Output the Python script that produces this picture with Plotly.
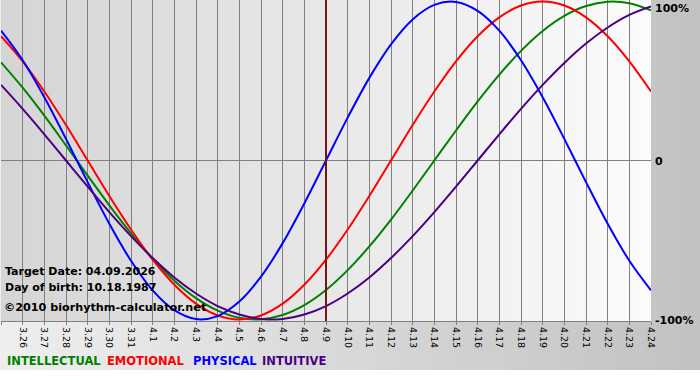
import plotly.graph_objects as go

# ---- data ----
dates = ["3.25", "3.26", "3.27", "3.28", "3.29", "3.30", "3.31",
         "4.1", "4.2", "4.3", "4.4", "4.5", "4.6", "4.7", "4.8", "4.9",
         "4.10", "4.11", "4.12", "4.13", "4.14", "4.15", "4.16", "4.17",
         "4.18", "4.19", "4.20", "4.21", "4.22", "4.23", "4.24"]

physical = [81.7, 63.1, 39.8, 13.6, -13.6, -39.8, -63.1, -81.7, -94.2, -99.8,
            -97.9, -88.8, -73.1, -52.0, -27.0, 0.0, 27.0, 52.0, 73.1, 88.8,
            97.9, 99.8, 94.2, 81.7, 63.1, 39.8, 13.6, -13.6, -39.8, -63.1, -81.7]

emotional = [78.2, 62.4, 43.4, 22.3, 0.0, -22.3, -43.4, -62.4, -78.2, -90.1,
             -97.5, -100.0, -97.5, -90.1, -78.2, -62.4, -43.4, -22.3, 0.0, 22.3,
             43.4, 62.4, 78.2, 90.1, 97.5, 100.0, 97.5, 90.1, 78.2, 62.4, 43.4]

intellectual = [61.8, 45.8, 28.2, 9.5, -9.5, -28.2, -45.8, -61.8, -75.6, -86.6,
                -94.5, -99.0, -99.9, -97.2, -91.0, -81.5, -69.0, -54.1, -37.2, -18.9,
                0.0, 18.9, 37.2, 54.1, 69.0, 81.5, 91.0, 97.2, 99.9, 99.0, 94.5]

intuitive = [47.6, 32.5, 16.5, 0.0, -16.5, -32.5, -47.6, -61.4, -73.6, -83.7,
             -91.6, -96.9, -99.7, -99.7, -96.9, -91.6, -83.7, -73.6, -61.4, -47.6,
             -32.5, -16.5, 0.0, 16.5, 32.5, 47.6, 61.4, 73.6, 83.7, 91.6, 96.9]

target_label = "4.9"
y_labels = ["100%", "0", "-100%"]
y_label_vals = [100, 0, -100]

# ---- layout geometry ----
W, H = 700, 380
ML, MR, MT, MB = 1, 49, 0, 59
PW, PH = W - ML - MR, H - MT - MB


def px2paper(px, py):
    return (px - ML) / PW, (H - MB - py) / PH


def lerp_gray(a, b, t):
    v = int(round(a + (b - a) * t))
    return f"rgb({v},{v},{v})"


x_idx = list(range(len(dates)))

fig = go.Figure()
series = [
    ("INTELLECTUAL", intellectual, "#008000"),
    ("EMOTIONAL", emotional, "#ff0000"),
    ("PHYSICAL", physical, "#0000ff"),
    ("INTUITIVE", intuitive, "#4b0082"),
]
for name, vals, col in series:
    fig.add_trace(go.Scatter(x=x_idx, y=vals, mode="lines", name=name,
                             line=dict(color=col, width=2, shape="spline", smoothing=1.0),
                             hoverinfo="skip"))

shapes = []
# outer background gradient
x0p, _ = px2paper(0, 0)
x1p, _ = px2paper(W, 0)
_, ybot = px2paper(0, 370)
N = 50
for i in range(N):
    xa = x0p + (x1p - x0p) * i / N
    xb = x0p + (x1p - x0p) * (i + 1) / N + 0.002
    shapes.append(dict(type="rect", xref="paper", yref="paper", x0=xa, x1=xb,
                       y0=ybot, y1=1.0, fillcolor=lerp_gray(238, 194, i / (N - 1)),
                       line=dict(width=0), layer="below"))
# plot area gradient
for i in range(N):
    xa = i / N
    xb = (i + 1) / N + 0.001
    shapes.append(dict(type="rect", xref="paper", yref="paper", x0=xa, x1=min(xb, 1.0),
                       y0=0, y1=1, fillcolor=lerp_gray(213, 251, i / (N - 1)),
                       line=dict(width=0), layer="below"))
# target date marker
ti = dates.index(target_label)
shapes.append(dict(type="line", xref="x", yref="paper", x0=ti, x1=ti, y0=0, y1=1,
                   line=dict(color="#7a1414", width=2), layer="above"))

annotations = []
# right side y labels
for lab, v in zip(y_labels, y_label_vals):
    annotations.append(dict(xref="paper", yref="y", x=1.0, y=v, xanchor="left",
                            yanchor="top" if v == 100 else "middle", xshift=2,
                            yshift=2 if v == 100 else -1,
                            text=f"<b>{lab}</b>", showarrow=False,
                            font=dict(family="DejaVu Sans", size=11, color="#000")))

# info text
info = [("Target Date: 04.09.2026", 3, 271, 11),
        ("Day of birth: 10.18.1987", 3, 287, 11),
        ("©2010 biorhythm-calculator.net", 2, 307, 11.2)]
for txt, px, py, fs in info:
    xp, yp = px2paper(px, py)
    annotations.append(dict(xref="paper", yref="paper", x=xp, y=yp, xanchor="left",
                            yanchor="middle", text=f"<b>{txt}</b>", showarrow=False,
                            font=dict(family="DejaVu Sans", size=fs, color="#000")))

# legend text
leg_pos = [5, 105, 191, 260]
for (name, _, col), px in zip(series, leg_pos):
    xp, yp = px2paper(px, 361)
    annotations.append(dict(xref="paper", yref="paper", x=xp, y=yp, xanchor="left",
                            yanchor="middle", text=f"<b>{name}</b>", showarrow=False,
                            font=dict(family="DejaVu Sans", size=11.5, color=col)))

fig.update_layout(
    width=W, height=H,
    margin=dict(l=ML, r=MR, t=MT, b=MB, pad=0, autoexpand=False),
    paper_bgcolor="#ffffff", plot_bgcolor="rgba(0,0,0,0)",
    showlegend=False,
    shapes=shapes, annotations=annotations,
    xaxis=dict(range=[0, len(dates) - 1], tickmode="array", tickvals=x_idx, ticktext=dates,
               tickangle=90, tickfont=dict(family="DejaVu Sans", size=9.5, color="#000"),
               showgrid=True, gridcolor="#808080", gridwidth=1,
               showline=True, linecolor="#808080", linewidth=1,
               ticks="outside", ticklen=3, tickcolor="#808080", zeroline=False,
               fixedrange=True, automargin=False),
    yaxis=dict(range=[-101, 101], showgrid=False, zeroline=True, zerolinecolor="#808080",
               zerolinewidth=1, showticklabels=False, ticks="", showline=False,
               fixedrange=True, automargin=False),
)

fig.write_html("out.html", config={"displayModeBar": False},
               post_script="document.body.style.margin='0px';document.body.style.overflow='hidden';")
